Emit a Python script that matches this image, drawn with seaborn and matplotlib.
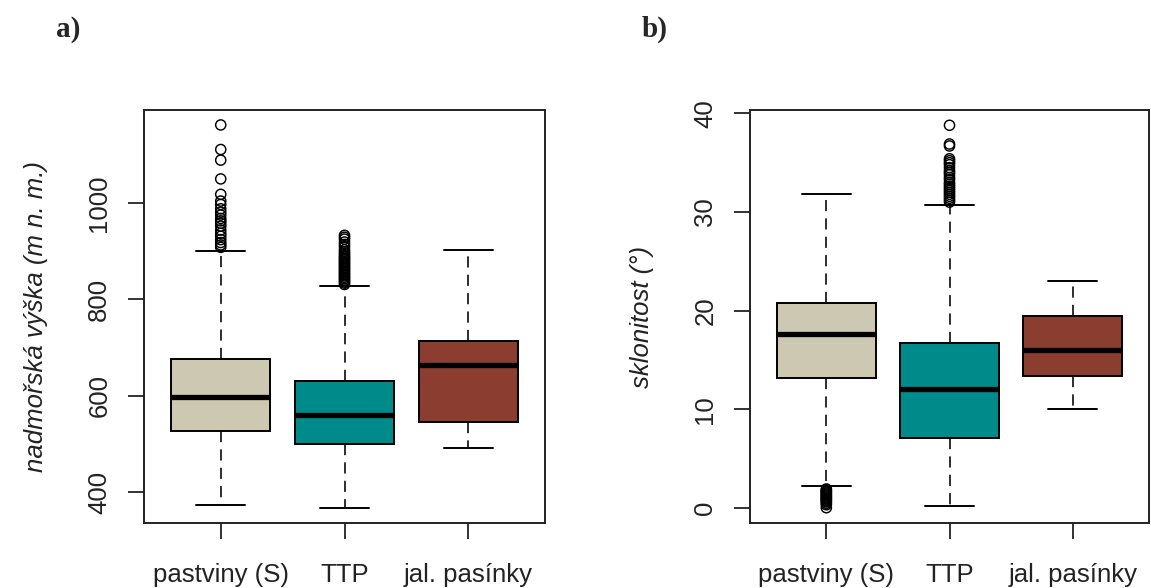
import matplotlib
matplotlib.use("Agg")
import matplotlib.pyplot as plt
import pandas as pd
import seaborn as sns

# Categories and fill colours
kategorie = ["pastviny (S)", "TTP", "jal. pasínky"]
barvy = ["#CDC8B1", "#008B8B", "#8B3E2F"]

# a) altitude (m a.s.l.): whisker ends, quartiles and median per category
vyska_dolni = [374, 367, 492]
vyska_q1 = [527, 500, 546]
vyska_median = [598, 560, 664]
vyska_q3 = [677, 631, 714]
vyska_horni = [900, 828, 903]
vyska_odlehle_pastviny = [1162, 1111, 1089, 1050, 1018, 1004, 997, 988, 981, 975,
                          968, 963, 958, 952, 944, 937, 931, 924, 918, 913, 908]
vyska_odlehle_ttp = [933, 929, 925, 919, 914, 909, 903, 899, 895, 891, 888, 885,
                     882, 879, 876, 873, 870, 867, 864, 861, 858, 855, 852, 849,
                     846, 843, 840, 837, 834, 831]
vyska_odlehle_jal = []

# b) slope (degrees)
sklon_dolni = [2.2, 0.2, 10.0]
sklon_q1 = [13.2, 7.1, 13.4]
sklon_median = [17.6, 12.0, 16.0]
sklon_q3 = [20.8, 16.75, 19.5]
sklon_horni = [31.8, 30.7, 23.0]
sklon_odlehle_pastviny = [0.0, 0.3, 0.45, 0.6, 0.7, 0.8, 0.9, 1.0, 1.1, 1.2, 1.3,
                          1.4, 1.5, 1.6, 1.7, 1.8, 1.9]
sklon_odlehle_ttp = [38.8, 36.9, 36.7, 35.4, 35.2, 35.0, 34.8, 34.5, 34.2, 34.0,
                     33.8, 33.5, 33.3, 33.0, 32.8, 32.6, 32.4, 32.2, 32.0, 31.8,
                     31.6, 31.4, 31.2, 31.0]
sklon_odlehle_jal = []

sns.set_theme(style="ticks")
plt.rcParams["font.family"] = ["Liberation Sans", "DejaVu Sans"]

TXT = 18.5
LINE = "#222222"


def souhrn(dolni, q1, med, q3, horni):
    rows = []
    for i, k in enumerate(kategorie):
        for v in (dolni[i], q1[i], med[i], q3[i], horni[i]):
            rows.append({"kategorie": k, "hodnota": v})
    return pd.DataFrame(rows)


def odlehle(*seznamy):
    rows = []
    for k, hodnoty in zip(kategorie, seznamy):
        for v in hodnoty:
            rows.append({"kategorie": k, "hodnota": v})
    return pd.DataFrame(rows, columns=["kategorie", "hodnota"])


def panel(ax, box_df, out_df, ylim, yticks, ylabel):
    sns.boxplot(
        data=box_df, x="kategorie", y="hodnota", hue="kategorie",
        order=kategorie, hue_order=kategorie, palette=barvy, legend=False,
        whis=(0, 100), width=0.8, showfliers=False, saturation=1,
        linecolor="black", linewidth=1.4,
        medianprops=dict(color="black", linewidth=3.8, solid_capstyle="butt"),
        whiskerprops=dict(color="black", linewidth=1.15, linestyle=(0, (7, 4.5))),
        capprops=dict(color="black", linewidth=1.4),
        ax=ax,
    )
    n = len(ax.collections)
    sns.stripplot(data=out_df, x="kategorie", y="hodnota", order=kategorie,
                  jitter=False, color="black", size=7.3, ax=ax)
    for c in ax.collections[n:]:
        c.set_facecolor("none")
        c.set_edgecolor("black")
        c.set_linewidth(1.05)
    ax.set_xlim(-0.62, 2.62)
    ax.set_ylim(*ylim)
    ax.set_yticks(yticks)
    ax.set_xticks(range(len(kategorie)))
    ax.set_xticklabels(kategorie)
    ax.set_xlabel("")
    ax.set_ylabel(ylabel, fontsize=TXT, style="italic", color="#222222")
    ax.yaxis.set_label_coords(-0.24, 0.5)
    for s in ax.spines.values():
        s.set_visible(True)
        s.set_color(LINE)
        s.set_linewidth(1.4)
    ax.tick_params(axis="both", length=11.5, width=1.3, color=LINE,
                   labelsize=TXT, labelcolor="#222222")
    ax.tick_params(axis="x", pad=17)
    ax.tick_params(axis="y", pad=12, labelrotation=90)
    for t in ax.get_yticklabels():
        t.set_va("center")
    ax.grid(False)


fig = plt.figure(figsize=(11.51, 5.88), dpi=100)
W, H = 1151, 588
ax1 = fig.add_axes([144 / W, 65 / H, 401 / W, 413 / H])
ax2 = fig.add_axes([750 / W, 65 / H, 399 / W, 413 / H])

panel(ax1,
      souhrn(vyska_dolni, vyska_q1, vyska_median, vyska_q3, vyska_horni),
      odlehle(vyska_odlehle_pastviny, vyska_odlehle_ttp, vyska_odlehle_jal),
      (336, 1193), [400, 600, 800, 1000], "nadmořská výška (m n. m.)")
panel(ax2,
      souhrn(sklon_dolni, sklon_q1, sklon_median, sklon_q3, sklon_horni),
      odlehle(sklon_odlehle_pastviny, sklon_odlehle_ttp, sklon_odlehle_jal),
      (-1.55, 40.35), [0, 10, 20, 30, 40], "sklonitost (°)")

fig.text(56 / W, 1 - 37 / H, "a)", fontsize=21, fontweight="bold",
         family=["Liberation Serif", "DejaVu Serif"], va="baseline")
fig.text(642 / W, 1 - 37 / H, "b)", fontsize=21, fontweight="bold",
         family=["Liberation Serif", "DejaVu Serif"], va="baseline")

fig.savefig("out.png", dpi=100, facecolor="white")
